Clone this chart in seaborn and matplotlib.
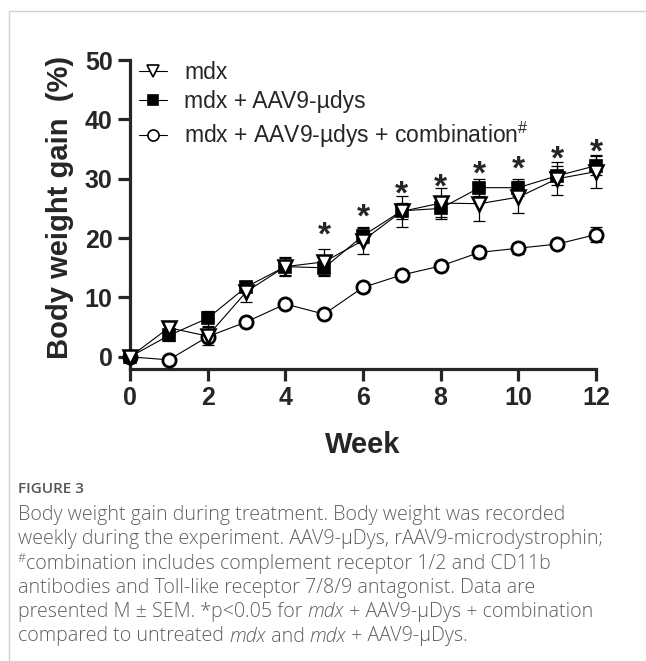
import matplotlib
matplotlib.use('Agg')
import matplotlib.pyplot as plt
from matplotlib.lines import Line2D
import pandas as pd
import seaborn as sns

# values (mean and SEM, % body weight gain)
weeks = list(range(13))
mdx_mean = [0, 4.9, 3.5, 11.0, 15.2, 16.0, 19.6, 24.5, 25.9, 25.8, 26.9, 30.0, 31.2]
mdx_sem = [0.4, 1.2, 1.5, 1.8, 1.6, 2.2, 2.3, 2.6, 2.6, 2.9, 2.7, 2.8, 2.8]
aav_mean = [0, 3.6, 6.5, 11.8, 15.2, 15.0, 20.4, 24.6, 25.0, 28.5, 28.5, 30.5, 32.2]
aav_sem = [0.3, 1.0, 1.3, 0.8, 1.4, 1.3, 1.3, 1.3, 1.5, 1.4, 1.4, 1.6, 1.6]
comb_mean = [0, -0.5, 3.4, 5.9, 8.9, 7.2, 11.7, 13.8, 15.3, 17.6, 18.3, 19.0, 20.6]
comb_sem = [0.3, 0.4, 0.6, 0.6, 0.5, 0.5, 0.8, 0.9, 0.6, 0.9, 0.9, 0.6, 1.2]

star_weeks = [5, 6, 7, 8, 9, 10, 11, 12]
star_y = [22.0, 25.0, 28.8, 30.0, 32.3, 33.0, 34.7, 35.9]

groups = ['mdx', 'mdx + AAV9-µdys', 'mdx + AAV9-µdys + combination']
legend_labels = ['mdx', 'mdx + AAV9-µdys', 'mdx + AAV9-µdys + combination$^{\\#}$']
y_ticks = [0, 10, 20, 30, 40, 50]
x_ticks = [0, 2, 4, 6, 8, 10, 12]

caption_title = 'FIGURE 3'
# each caption line is a list of (text, style) runs
caption_lines = [
    [('Body weight gain during treatment. Body weight was recorded', 'n')],
    [('weekly during the experiment. AAV9-µDys, rAAV9-microdystrophin;', 'n')],
    [('#', 'sup'), ('combination includes complement receptor 1/2 and CD11b', 'n')],
    [('antibodies and Toll-like receptor 7/8/9 antagonist. Data are', 'n')],
    [('presented M ± SEM. *p<0.05 for ', 'n'), ('mdx', 'i'),
     (' + AAV9-µDys + combination', 'n')],
    [('compared to untreated ', 'n'), ('mdx', 'i'), (' and ', 'n'), ('mdx', 'i'),
     (' + AAV9-µDys.', 'n')],
]

sns.set_style('ticks')
plt.rcParams['font.family'] = ['Liberation Sans', 'DejaVu Sans']
plt.rcParams['mathtext.fontset'] = 'custom'
plt.rcParams['mathtext.rm'] = 'Liberation Sans'
plt.rcParams['mathtext.it'] = 'Liberation Sans:italic'

df = pd.DataFrame({
    'week': weeks * 3,
    'gain': mdx_mean + aav_mean + comb_mean,
    'group': [groups[0]] * 13 + [groups[1]] * 13 + [groups[2]] * 13,
})

marker_map = {groups[0]: 'v', groups[1]: 's', groups[2]: 'o'}
face_map = {groups[0]: 'white', groups[1]: 'black', groups[2]: 'white'}
size_map = {groups[0]: 10.5, groups[1]: 9, groups[2]: 9.5}
mew_map = {groups[0]: 1.8, groups[1]: 1.2, groups[2]: 2.0}
draw_order = [groups[2], groups[1], groups[0]]

fig = plt.figure(figsize=(6.46, 6.61), dpi=100)
ax = fig.add_axes([0.2012, 0.4417, 0.7214, 0.4675])

sns.lineplot(data=df, x='week', y='gain', hue='group', style='group',
             hue_order=draw_order, style_order=draw_order,
             palette={g: 'black' for g in groups}, markers=marker_map,
             dashes=False, linewidth=0.8, legend=False, ax=ax, zorder=3)

for line, g in zip(ax.get_lines(), draw_order):
    line.set_markerfacecolor(face_map[g])
    line.set_markeredgecolor('black')
    line.set_markersize(size_map[g])
    line.set_markeredgewidth(mew_map[g])
    line.set_clip_on(False)

for mean, sem in [(comb_mean, comb_sem), (aav_mean, aav_sem), (mdx_mean, mdx_sem)]:
    eb = ax.errorbar(weeks, mean, yerr=sem, fmt='none', ecolor='black',
                     elinewidth=0.9, capsize=4.3, capthick=0.9, zorder=2)
    for art in eb.lines[1] + eb.lines[2]:
        art.set_clip_on(False)

for wk, sy in zip(star_weeks, star_y):
    ax.annotate('*', xy=(wk, sy), xytext=(0, -13), textcoords='offset points',
                ha='center', va='baseline', fontsize=24, fontweight='bold')

ax.set_xlim(0, 12)
ax.set_ylim(-2.05, 50)
ax.set_xticks(x_ticks)
ax.set_yticks(y_ticks)
sns.despine(ax=ax)
for side in ['left', 'bottom']:
    ax.spines[side].set_linewidth(2.3)
ax.tick_params(axis='both', length=8.5, width=2.3, labelsize=18, pad=4)
for lab in ax.get_xticklabels() + ax.get_yticklabels():
    lab.set_fontweight('bold')

ax.set_xlabel('Week', fontsize=21, fontweight='bold', labelpad=15)
ax.set_ylabel('Body weight gain  (%)', fontsize=21, fontweight='bold', va='center')
ax.yaxis.set_label_coords(-0.15, 0.523)

handles = [Line2D([], [], color='black', linewidth=0.8, marker=marker_map[g],
                  markerfacecolor=face_map[g], markeredgecolor='black',
                  markersize=size_map[g] - 1.5, markeredgewidth=1.2)
           for g in groups]
ax.legend(handles, legend_labels, loc='upper left', bbox_to_anchor=(0.02, 0.997),
          frameon=False, fontsize=16.5, handlelength=1.2, handletextpad=0.75,
          labelspacing=0.28, borderpad=0, borderaxespad=0)

# caption below the chart
grey = '#5f5f5f'
fig.text(18 / 646, 1 - 489 / 661, caption_title, fontsize=11, color='#555555',
         family='Open Sans', fontweight='semibold', va='center')
renderer = fig.canvas.get_renderer()
for i, runs in enumerate(caption_lines):
    x = 18 / 646
    y = 1 - (515 + 24.3 * i) / 661
    for text, style in runs:
        kw = dict(fontsize=14.1, color=grey, family='Open Sans', fontweight='light',
                  va='center')
        yy = y
        if style == 'i':
            kw['style'] = 'italic'
        if style == 'sup':
            kw['fontsize'] = 9
            yy = y + 5 / 661
        t = fig.text(x, yy, text, **kw)
        bb = t.get_window_extent(renderer=renderer)
        x += bb.width / fig.bbox.width

# light frame around the figure panel
fig.add_artist(Line2D([9 / 646, 1], [1 - 11 / 661, 1 - 11 / 661],
                      transform=fig.transFigure, color='#d0d0d0', linewidth=1))
fig.add_artist(Line2D([9 / 646, 9 / 646], [0, 1 - 11 / 661],
                      transform=fig.transFigure, color='#d0d0d0', linewidth=1))

fig.savefig('out.png', dpi=100)
